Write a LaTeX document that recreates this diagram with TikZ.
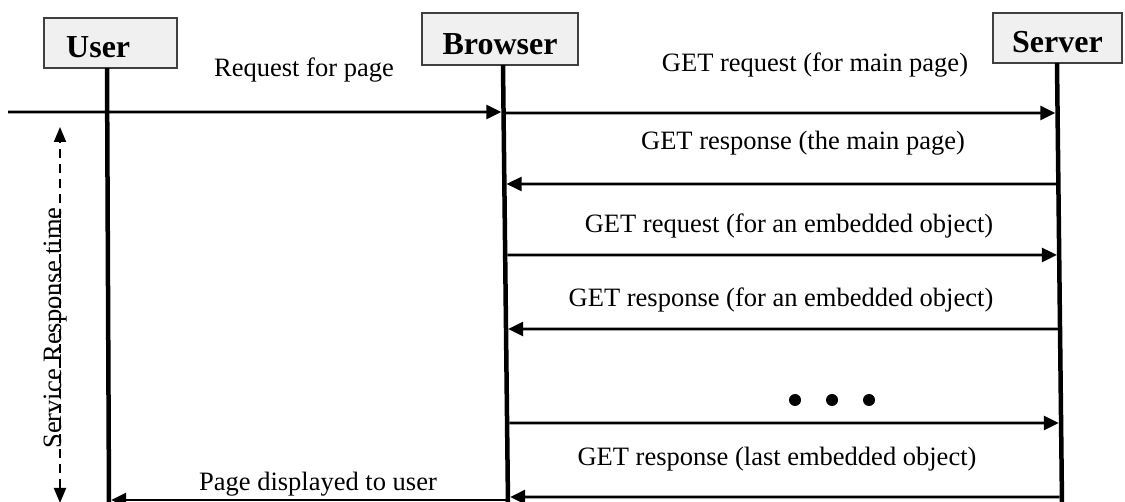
\documentclass[tikz,border=0pt]{standalone}
\usepackage{fontspec}
\setmainfont{Liberation Serif}
\usetikzlibrary{arrows.meta,calc}

\begin{document}
\begin{tikzpicture}[x=1pt,y=-1pt,
  actor/.style={draw=black!75, fill=black!6, line width=1.2pt, inner sep=0pt},
  title/.style={font=\fontsize{32}{38}\selectfont\bfseries, inner sep=0pt, anchor=base},
  msg/.style={font=\fontsize{26.5}{32}\selectfont, inner sep=0pt, anchor=base},
  life/.style={line width=4.5pt},
  call/.style={line width=2.6pt, shorten >=2.2pt, shorten <=2.2pt,
    -{Triangle[length=15pt,width=14pt]}},
  span/.style={line width=2pt, dash pattern=on 9pt off 6pt,
    {Triangle[length=15pt,width=12pt]}-{Triangle[length=15pt,width=12pt]}},
  dot/.style={circle, fill=black, inner sep=0pt, minimum size=12pt}]

\useasboundingbox (0,0) rectangle (1125,502);
\clip (0,0) rectangle (1125,502);

% participant boxes
\node[actor, minimum width=133pt, minimum height=50pt] (userbox) at (110.5,43) {};
\node[actor, minimum width=156pt, minimum height=52pt] (browserbox) at (500,39) {};
\node[actor, minimum width=129pt, minimum height=50pt] (serverbox) at (1057.5,38) {};
\node[title, anchor=base west] (usertxt) at (66,58) {User};
\node[title] (browsertxt) at (500,55) {Browser};
\node[title] (servertxt) at (1057.5,53) {Server};

% lifelines (slightly leaning, as hand drawn)
\coordinate (uTop) at (107,68);    \coordinate (uEnd) at (109,504);
\coordinate (bTop) at (503,65);    \coordinate (bEnd) at (508,504);
\coordinate (sTop) at (1057,63);   \coordinate (sEnd) at (1062,504);
\draw[life] (uTop) -- (uEnd);
\draw[life] (bTop) -- (bEnd);
\draw[life] (sTop) -- (sEnd);

% message rows
\coordinate (ext) at (8,112);
\coordinate (m1) at (0,113);
\coordinate (m2) at (0,184);
\coordinate (m3) at (0,255);
\coordinate (m4) at (0,329);
\coordinate (m5) at (0,423);
\coordinate (m6) at (0,497);
\coordinate (m7) at (0,500);

% points where each (horizontal) row meets a lifeline
\foreach \r in {ext,m1,m2,m3,m4,m5,m6,m7}{
  \coordinate (\r-far) at ($(\r)+(1100,0)$);
  \coordinate (u-\r) at (intersection of uTop--uEnd and \r--\r-far);
  \coordinate (b-\r) at (intersection of bTop--bEnd and \r--\r-far);
  \coordinate (s-\r) at (intersection of sTop--sEnd and \r--\r-far);
}

\draw[call, shorten <=0pt] (ext) -- (b-ext);
\draw[call] (b-m1) -- (s-m1);
\draw[call] (s-m2) -- (b-m2);
\draw[call] (b-m3) -- (s-m3);
\draw[call] (s-m4) -- (b-m4);
\draw[call] (b-m5) -- (s-m5);
\draw[call] (s-m6) -- (b-m6);
\draw[call] (b-m7) -- (u-m7);

% message labels
\node[msg] (l0) at (304,77) {Request for page};
\node[msg] (l1) at (815,72) {GET request (for main page)};
\node[msg] (l2) at (803,150) {GET response (the main page)};
\node[msg] (l3) at (789,233) {GET request (for an embedded object)};
\node[msg] (l4) at (781,307) {GET response (for an embedded object)};
\node[msg] (l5) at (777,466) {GET response (last embedded object)};
\node[msg] (l6) at (318,490) {Page displayed to user};

% ellipsis between requests
\node[dot] (d1) at (795,400) {};
\node[dot] (d2) at (832,400) {};
\node[dot] (d3) at (869,400) {};

% overall response time
\coordinate (rtTop) at (60,127);
\coordinate (rtBot) at (60,503);
\draw[span] (rtBot) -- (rtTop);
\node[msg, rotate=90] (rt) at (61,328) {Service Response time};

\end{tikzpicture}
\end{document}
